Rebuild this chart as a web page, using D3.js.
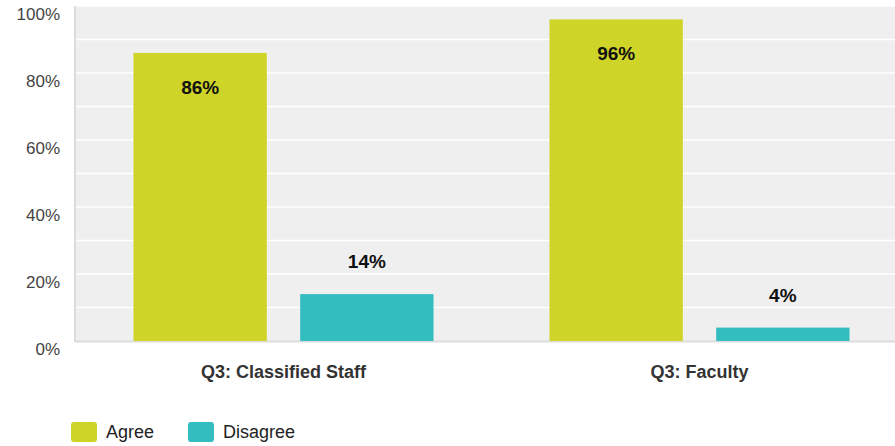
<!DOCTYPE html>
<html><head><meta charset="utf-8">
<script src="https://cdn.jsdelivr.net/npm/d3@7"></script>
<style>body{margin:0;background:#fff;font-family:"Liberation Sans",Arial,sans-serif}</style>
</head><body>
<svg id="c" width="895" height="446"></svg>
<script>
const categories = ["Q3: Classified Staff", "Q3: Faculty"];
const seriesNames = ["Agree", "Disagree"];
const agree = [86, 96];
const disagree = [14, 4];
const yTicks = [0, 20, 40, 60, 80, 100];
const colors = ["#cfd428", "#33bdbf"];

(function () {
const svg = d3.select("#c");
const plotTop = 6, plotBottom = 341, plotLeft = 75;
const y = d3.scaleLinear().domain([0, 100]).range([plotBottom, plotTop]);
const x0 = d3.scaleBand().domain(categories).range([75.5, 907.5]).paddingInner(0).paddingOuter(0);
const x1 = d3.scaleBand().domain(seriesNames).range([58, x0.bandwidth() - 58]).paddingInner(0.2);

svg.append("rect").attr("x", plotLeft).attr("y", plotTop).attr("width", 895 - plotLeft).attr("height", plotBottom - plotTop).attr("fill", "#efefef");
svg.append("g").selectAll("line").data(d3.range(10, 101, 10)).join("line")
  .attr("x1", plotLeft).attr("x2", 895).attr("y1", d => y(d)).attr("y2", d => y(d))
  .attr("stroke", "#fff").attr("stroke-width", 1.5);

const yAxis = d3.axisLeft(y).tickValues(yTicks).tickFormat(d => d + "%").tickSize(0).tickPadding(15);
const ga = svg.append("g").attr("transform", `translate(${plotLeft},0)`).call(yAxis);
ga.select(".domain").remove();
ga.selectAll("text").attr("font-size", 17).attr("fill", "#444").attr("dy", "0")
  .attr("transform", "translate(0,13)")
  .attr("font-family", "Liberation Sans, Arial, sans-serif");

svg.append("line").attr("x1", plotLeft).attr("x2", plotLeft).attr("y1", plotTop).attr("y2", plotBottom + 1).attr("stroke", "#dcdcdc").attr("stroke-width", 2);
svg.append("line").attr("x1", plotLeft).attr("x2", 895).attr("y1", plotBottom + 0.5).attr("y2", plotBottom + 0.5).attr("stroke", "#dcdcdc").attr("stroke-width", 2);

const rows = categories.map((c, i) => ({cat: c, vals: [{s: "Agree", v: agree[i]}, {s: "Disagree", v: disagree[i]}]}));
const g = svg.append("g").selectAll("g").data(rows).join("g").attr("transform", d => `translate(${x0(d.cat)},0)`);
g.selectAll("rect").data(d => d.vals).join("rect")
  .attr("x", d => x1(d.s)).attr("width", x1.bandwidth())
  .attr("y", d => y(d.v)).attr("height", d => y(0) - y(d.v))
  .attr("fill", (d, i) => colors[i]);
g.selectAll("text").data(d => d.vals).join("text")
  .attr("x", d => x1(d.s) + x1.bandwidth() / 2)
  .attr("y", d => d.v > 50 ? y(d.v) + 41 : y(d.v) - 26)
  .attr("text-anchor", "middle").attr("font-weight", "bold").attr("font-size", 19).attr("fill", "#111")
  .text(d => d.v + "%");

svg.append("g").selectAll("text").data(categories).join("text")
  .attr("x", d => x0(d) + x0.bandwidth() / 2).attr("y", 378)
  .attr("text-anchor", "middle").attr("font-weight", "bold").attr("font-size", 18).attr("fill", "#333")
  .text(d => d);

const lx = [71, 188];
const lg = svg.append("g").selectAll("g").data(seriesNames).join("g").attr("transform", (d, i) => `translate(${lx[i]},422)`);
lg.append("rect").attr("width", 26).attr("height", 20).attr("rx", 3).attr("fill", (d, i) => colors[i]);
lg.append("text").attr("x", 35).attr("y", 16).attr("font-size", 18).attr("fill", "#222").text(d => d);
})();
</script>
</body></html>
